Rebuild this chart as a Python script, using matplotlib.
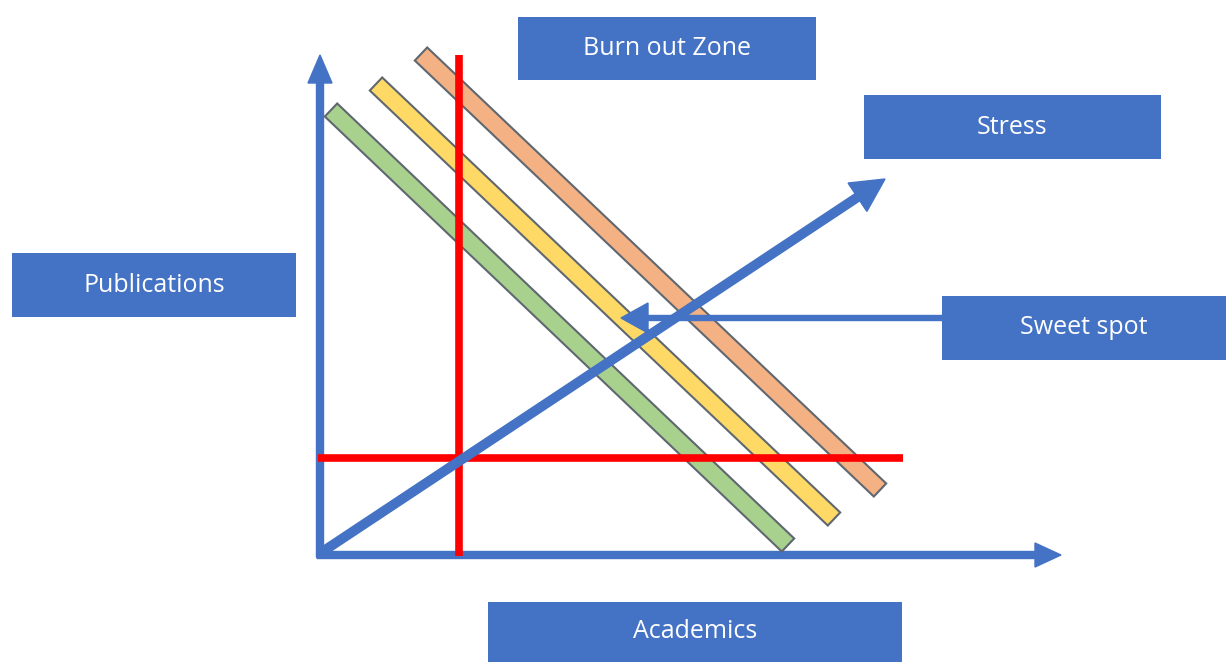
import numpy as np
import matplotlib.pyplot as plt
from matplotlib.patches import Polygon, FancyArrow, Rectangle

# diagram geometry (pixel space, y down)
W, H = 1226, 662
blue = '#4472C4'
red = '#FF0000'

# diagonal bands: top end centre, bottom end centre
band_tops = [(331, 110), (376, 84), (421, 54)]
band_bottoms = [(788, 545), (834, 519), (880, 490)]
band_colors = ['#A9D18E', '#FFD966', '#F4B183']

# label boxes: x0, y0, x1, y1
box_labels = ['Burn out Zone', 'Stress', 'Publications', 'Sweet spot', 'Academics']
box_x0 = [518, 864, 12, 942, 488]
box_y0 = [17, 95, 253, 296, 602]
box_x1 = [816, 1161, 296, 1226, 902]
box_y1 = [80, 159, 317, 360, 662]

fig = plt.figure(figsize=(12.26, 6.62), dpi=100)
ax = fig.add_axes([0, 0, 1, 1])
ax.set_xlim(0, W)
ax.set_ylim(H, 0)
ax.axis('off')

# bands
half = 9
for (x0, y0), (x1, y1), c in zip(band_tops, band_bottoms, band_colors):
    d = np.array([x1 - x0, y1 - y0], dtype=float)
    d /= np.hypot(*d)
    n = np.array([-d[1], d[0]]) * half
    pts = [(x0 + n[0], y0 + n[1]), (x1 + n[0], y1 + n[1]),
           (x1 - n[0], y1 - n[1]), (x0 - n[0], y0 - n[1])]
    ax.add_patch(Polygon(pts, closed=True, facecolor=c, edgecolor='#5f6770', lw=1.5, zorder=3))

# axes arrows
ax.add_patch(FancyArrow(320, 557, 0, -502, width=7, head_width=24, head_length=28,
                        length_includes_head=True, color=blue, zorder=2))
ax.add_patch(FancyArrow(317, 555, 744, 0, width=7, head_width=24, head_length=26,
                        length_includes_head=True, color=blue, zorder=2))

# red lines
ax.plot([459, 459], [55, 556], color=red, lw=5.5, solid_capstyle='butt', zorder=4)
ax.plot([318, 903], [458, 458], color=red, lw=5.5, solid_capstyle='butt', zorder=4)

# stress arrow
ax.add_patch(FancyArrow(322, 552, 563, -373, width=8.5, head_width=34, head_length=33,
                        length_includes_head=True, color=blue, zorder=5))

# sweet spot arrow
ax.add_patch(FancyArrow(943, 318, -322, 0, width=5, head_width=30, head_length=27,
                        length_includes_head=True, color=blue, zorder=5))

# label boxes
for lab, x0, y0, x1, y1 in zip(box_labels, box_x0, box_y0, box_x1, box_y1):
    ax.add_patch(Rectangle((x0, y0), x1 - x0, y1 - y0, facecolor=blue, edgecolor='none', zorder=6))
    ax.text((x0 + x1) / 2, (y0 + y1) / 2, lab, color='white', fontsize=18,
            ha='center', va='center', family='Open Sans', zorder=7)

fig.savefig('out.png', dpi=100, facecolor='white')
